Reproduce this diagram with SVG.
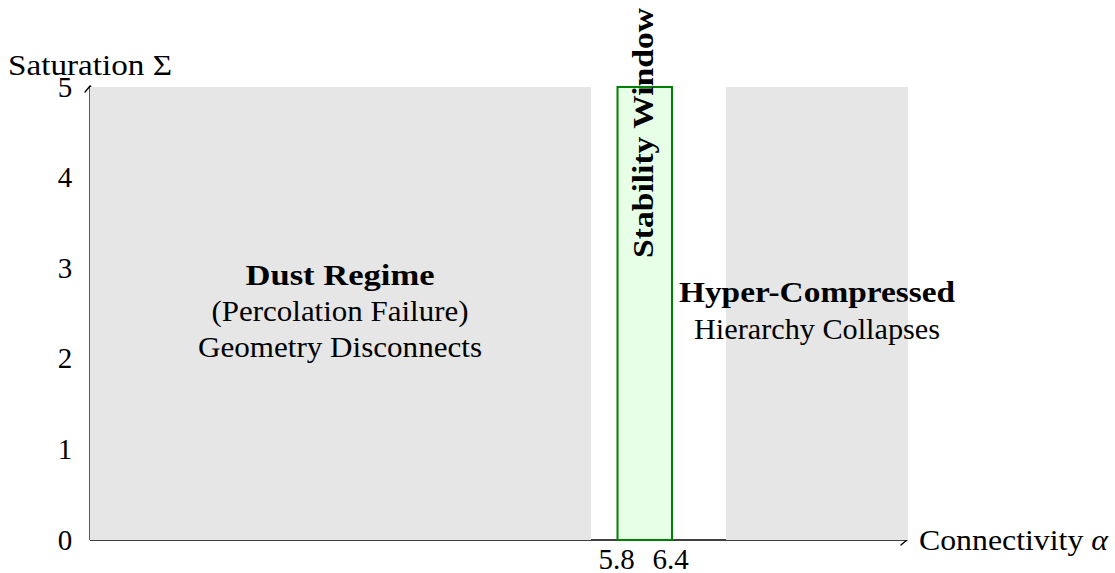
<svg xmlns="http://www.w3.org/2000/svg" width="1115" height="573" viewBox="0 0 1115 573">
  <style>
    text { font-family: "Liberation Serif", "Times New Roman", serif; font-size: 29px; fill: #000; }
    .b { font-weight: bold; }
    .mid { text-anchor: middle; }
    .axis { stroke: #000; stroke-width: 1.3; fill: none; }
    .region { fill: #e6e6e6; stroke: none; }
    .window { fill: #e6ffe6; stroke: #008000; stroke-width: 2; }
  </style>
  <defs>
    <marker id="arr" markerUnits="userSpaceOnUse" markerWidth="14" markerHeight="14" refX="0" refY="0" viewBox="-8 -7 10 14" orient="auto" overflow="visible">
      <path d="M -6,-5 Q -2,-1.5 0,0 Q -2,1.5 -6,5" fill="none" stroke="#000" stroke-width="1.3" stroke-linecap="round"/>
    </marker>
  </defs>

  <g id="connectors">
    <line class="axis" x1="90" y1="540" x2="907" y2="540" marker-end="url(#arr)"/>
    <line class="axis" x1="90" y1="540" x2="90" y2="86" marker-end="url(#arr)"/>
  </g>

  <g id="dust-regime">
    <rect class="region" x="90" y="87" width="501" height="453"/>
    <text class="b mid" x="340" y="285" textLength="189" lengthAdjust="spacingAndGlyphs">Dust Regime</text>
    <text class="mid" x="340" y="321" textLength="257" lengthAdjust="spacingAndGlyphs">(Percolation Failure)</text>
    <text class="mid" x="340" y="357" textLength="284" lengthAdjust="spacingAndGlyphs">Geometry Disconnects</text>
  </g>

  <g id="hyper-compressed">
    <rect class="region" x="726" y="87" width="182" height="453"/>
    <text class="b mid" x="817" y="302" textLength="276" lengthAdjust="spacingAndGlyphs">Hyper-Compressed</text>
    <text class="mid" x="817" y="339" textLength="246" lengthAdjust="spacingAndGlyphs">Hierarchy Collapses</text>
  </g>

  <g id="stability-window">
    <rect class="window" x="617.5" y="87" width="54.5" height="453"/>
    <text class="b mid" transform="translate(653,133) rotate(-90)" textLength="250" lengthAdjust="spacingAndGlyphs">Stability Window</text>
  </g>

  <g id="axis-labels">
    <text class="mid" x="90" y="75" textLength="164" lengthAdjust="spacingAndGlyphs">Saturation Σ</text>
    <text x="919" y="550" textLength="189" lengthAdjust="spacingAndGlyphs">Connectivity <tspan font-style="italic">α</tspan></text>
    <text class="mid" x="65" y="97">5</text>
    <text class="mid" x="65" y="187">4</text>
    <text class="mid" x="65" y="277.5">3</text>
    <text class="mid" x="65" y="368">2</text>
    <text class="mid" x="65" y="458.5">1</text>
    <text class="mid" x="65" y="549.5">0</text>
    <text class="mid" x="616.5" y="569">5.8</text>
    <text class="mid" x="670.5" y="569">6.4</text>
  </g>
</svg>
